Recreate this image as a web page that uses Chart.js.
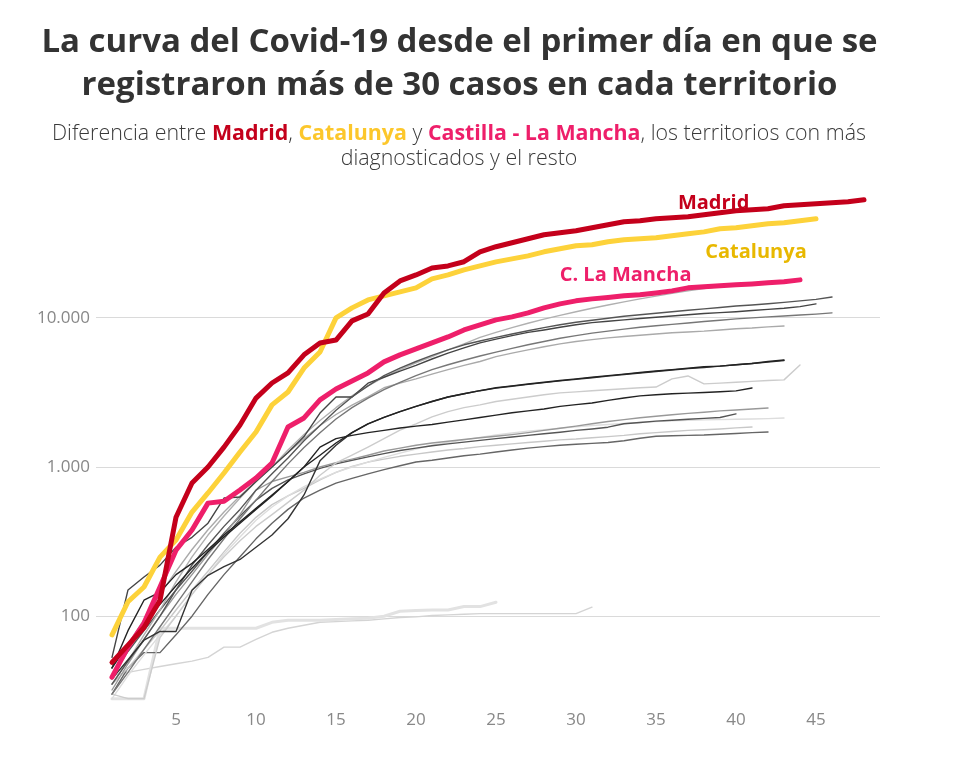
<!DOCTYPE html>
<html><head><meta charset="utf-8">
<script src="https://cdn.jsdelivr.net/npm/chart.js@4/dist/chart.umd.min.js"></script>
<style>
html,body{margin:0;padding:0;background:#fff;width:953px;height:757px;overflow:hidden;font-family:'Open Sans',sans-serif;}
#wrap{position:absolute;left:0;top:0;width:953px;height:757px;}
#title{position:absolute;left:0;top:18px;width:919px;text-align:center;font-weight:700;font-size:33px;line-height:43px;color:#333;}
#sub{position:absolute;left:0;top:119px;width:918px;text-align:center;font-size:21.4px;font-weight:300;line-height:25px;color:#3a3a3a;}
#sub b{font-weight:700;}
</style></head>
<body>
<div id="wrap"><canvas id="c" width="953" height="757"></canvas></div>
<div id="title">La curva del Covid-19 desde el primer día en que se<br>registraron más de 30 casos en cada territorio</div>
<div id="sub">Diferencia entre <b style="color:#c4001b">Madrid</b>, <b style="color:#fcc72b">Catalunya</b> y <b style="color:#ee1f6a">Castilla - La Mancha</b>, los territorios con más<br>diagnosticados y el resto</div>
<script>
// ---- data: cumulative cases by day since >30 cases ----
const xTicks = [5,10,15,20,25,30,35,40,45];
const yTicks = [100,1000,10000];

const madrid = [49,64,84,128,461,781,1000,1360,1915,2900,3660,4280,5650,6790,7100,9550,10630,14700,17700,19400,21600,22300,23800,27700,30000,31900,33900,36100,37200,38400,40200,42100,44100,44800,46200,46900,47600,49100,50700,52200,53100,53900,56500,57300,58200,59100,60100,61900];
const catalunya = [75,125,157,249,324,499,670,912,1262,1718,2610,3185,4610,5910,10000,11670,13200,14050,14950,15900,18270,19430,21000,22330,23750,24880,26060,27730,29040,30420,30910,32370,33370,33910,34450,35510,36600,37730,39560,40180,41430,42710,43400,44750,46140];
const clm = [39,62,90,157,277,378,573,590,702,843,1064,1855,2133,2818,3337,3777,4277,5070,5650,6200,6800,7450,8300,8980,9700,10160,10800,11680,12420,13010,13410,13700,14050,14270,14700,15170,15900,16150,16400,16660,16900,17190,17450,17980];

const g1 = [35,50,70,100,150,220,300,400,520,700,900,1150,1500,1900,2400,2950,3500,4100,4600,5100,5600,6100,6600,7000,7400,7800,8200,8600,9000,9350,9650,9950,10250,10500,10750,11000,11250,11500,11750,12000,12200,12450,12700,13000,13300,13800];
const g2 = [53,150,183,220,290,338,420,620,630,800,1000,1250,1600,2300,2950,2950,3650,4000,4400,4800,5300,5800,6300,6800,7200,7600,8000,8300,8650,9000,9300,9500,9700,9900,10100,10300,10500,10700,10850,11000,11200,11400,11600,11900,12420];
const g3 = [30,42,60,85,120,170,240,330,450,600,800,1050,1350,1700,2100,2500,2900,3300,3700,4100,4500,4850,5200,5550,5900,6250,6600,6950,7300,7600,7900,8150,8400,8650,8850,9050,9250,9450,9650,9850,10000,10150,10300,10450,10600,10800];
const g4 = [45,65,95,140,200,280,380,500,640,800,1000,1250,1550,1900,2250,2600,2950,3400,3650,3900,4200,4500,4800,5100,5500,5800,6100,6400,6700,6950,7150,7350,7500,7650,7800,7950,8050,8150,8300,8450,8550,8700,8830];
const g5 = [35,50,75,110,170,250,350,470,620,800,1000,1300,1650,2050,2500,3000,3500,4000,4500,5000,5500,6100,6700,7400,8000,8600,9200,9800,10400,11000,11600,12200,12800,13400,14000,14600,15200,15700,16200];
const g6 = [45,65,90,120,160,210,270,340,420,520,640,800,1000,1200,1450,1700,1950,2150,2350,2550,2750,2950,3100,3250,3400,3500,3600,3700,3800,3900,4000,4100,4200,4300,4400,4500,4600,4700,4750,4850,4950,5100,5220];
const g7 = [38,51,69,79,79,149,188,215,240,290,350,450,650,1100,1400,1700,1950,2150,2350,2550,2750,2950,3100,3250,3380,3480,3580,3680,3780,3870,3970,4070,4170,4270,4370,4470,4570,4650,4750,4850,4950,5050,5180];
const g8 = [30,28,28,72,100,140,190,250,320,400,480,580,700,880,1065,1200,1360,1550,1770,1950,2170,2350,2500,2610,2750,2850,2950,3050,3140,3190,3250,3300,3350,3400,3440,3900,4080,3610,3650,3700,3750,3800,3840,4840];
const g9 = [45,80,128,145,190,226,280,350,430,530,650,800,1000,1360,1550,1630,1700,1760,1828,1880,1930,2000,2070,2150,2230,2310,2380,2450,2550,2620,2690,2800,2900,3000,3050,3100,3130,3160,3200,3240,3390];
const g10 = [32,48,70,100,140,190,260,350,480,700,800,860,920,1000,1070,1130,1200,1280,1340,1400,1450,1490,1530,1570,1610,1650,1700,1760,1820,1880,1950,2020,2080,2140,2190,2240,2290,2330,2380,2410,2450,2490];
const g11 = [40,58,80,110,150,200,270,360,470,600,720,820,900,980,1050,1110,1170,1230,1290,1340,1390,1430,1470,1510,1550,1590,1630,1670,1710,1760,1800,1850,1950,1990,2030,2060,2090,2120,2150,2270];
const g12 = [28,40,55,75,100,140,190,260,340,440,540,640,740,830,920,1000,1080,1160,1240,1320,1400,1460,1520,1580,1640,1690,1740,1780,1820,1860,1900,1930,1960,1990,2020,2040,2060,2070,2080,2090,2100,2110,2130];
const g13 = [35,45,60,80,110,150,200,270,360,460,560,640,720,820,920,1010,1080,1130,1180,1220,1260,1300,1330,1370,1400,1430,1460,1490,1520,1540,1570,1600,1630,1670,1700,1730,1760,1780,1800,1830,1855];
const g14 = [30,45,57,57,75,100,140,190,250,330,420,520,620,700,780,840,900,960,1020,1080,1110,1150,1190,1220,1260,1300,1340,1370,1400,1420,1440,1460,1500,1560,1610,1620,1630,1640,1660,1680,1700,1718];
const g15 = [28,28,28,83,83,83,83,83,83,83,91,94,94,94,95,96,97,100,108,109,110,110,116,116,124];
const g16 = [40,42,44,46,48,50,53,62,62,70,78,83,87,91,92,93,94,96,98,99,101,102,103,104,104,104,104,104,104,104,115];

const labelNames = ['Madrid','Catalunya','C. La Mancha'];

function pts(arr){ return arr.map((v,i)=>({x:i+1,y:v})); }
function ds(arr,color,width){ return {data:pts(arr),borderColor:color,borderWidth:width,pointRadius:0,tension:0,fill:false,borderJoinStyle:'round',borderCapStyle:'round'}; }

const datasets = [
  ds(madrid,'#c4001b',5),
  ds(catalunya,'#fdd23a',5),
  ds(clm,'#ee1f6a',5),
  ds(g6,'#222',1.4), ds(g7,'#333',1.4), ds(g9,'#222',1.4),
  ds(g1,'#555',1.4), ds(g2,'#444',1.4), ds(g3,'#777',1.4), ds(g4,'#aaa',1.4), ds(g5,'#b0b0b0',1.4),
  ds(g8,'#ccc',1.4), ds(g10,'#999',1.4), ds(g11,'#555',1.4), ds(g12,'#ddd',1.4), ds(g13,'#c8c8c8',1.4), ds(g14,'#666',1.4),
  ds(g15,'#e2e2e2',3), ds(g16,'#d4d4d4',1.4)
];

const labelPos = [
  {x:38.6,y:58500,color:'#c4001b'},
  {x:41.25,y:27400,color:'#e8b800'},
  {x:33.1,y:19200,color:'#ee1f6a'}
];

const labelPlugin = {
  id:'lineLabels',
  afterDatasetsDraw(chart){
    const {ctx,scales:{x,y}} = chart;
    ctx.save();
    ctx.font = 'bold 20px "Open Sans"';
    ctx.textAlign='center'; ctx.textBaseline='middle';
    labelNames.forEach((t,i)=>{
      const p = labelPos[i];
      ctx.fillStyle = p.color;
      ctx.fillText(t, x.getPixelForValue(p.x), y.getPixelForValue(p.y));
    });
    ctx.restore();
  }
};

function fmt(v){ return String(v).replace(/\B(?=(\d{3})+(?!\d))/g,'.'); }

new Chart(document.getElementById('c'),{
  type:'line',
  data:{datasets},
  plugins:[labelPlugin],
  options:{
    responsive:false, animation:false,
    layout:{padding:{top:190,right:73,left:0,bottom:0}},
    plugins:{legend:{display:false},tooltip:{enabled:false}},
    scales:{
      x:{type:'linear',min:0,max:49,
        afterBuildTicks:s=>{s.ticks=xTicks.map(v=>({value:v}));},
        afterFit:s=>{s.height=51;},
        grid:{display:false,drawTicks:false},border:{display:false},
        ticks:{color:'#888',font:{size:17,family:'Open Sans'},padding:4}},
      y:{type:'logarithmic',min:25,max:72000,
        afterBuildTicks:s=>{s.ticks=yTicks.map(v=>({value:v}));},
        afterFit:s=>{s.width=96;},
        grid:{color:'#dadada',drawTicks:false,lineWidth:1},border:{display:false},
        ticks:{color:'#888',font:{size:17,family:'Open Sans'},padding:6,callback:v=>fmt(v)}}
    }
  }
});
</script>
</body></html>
